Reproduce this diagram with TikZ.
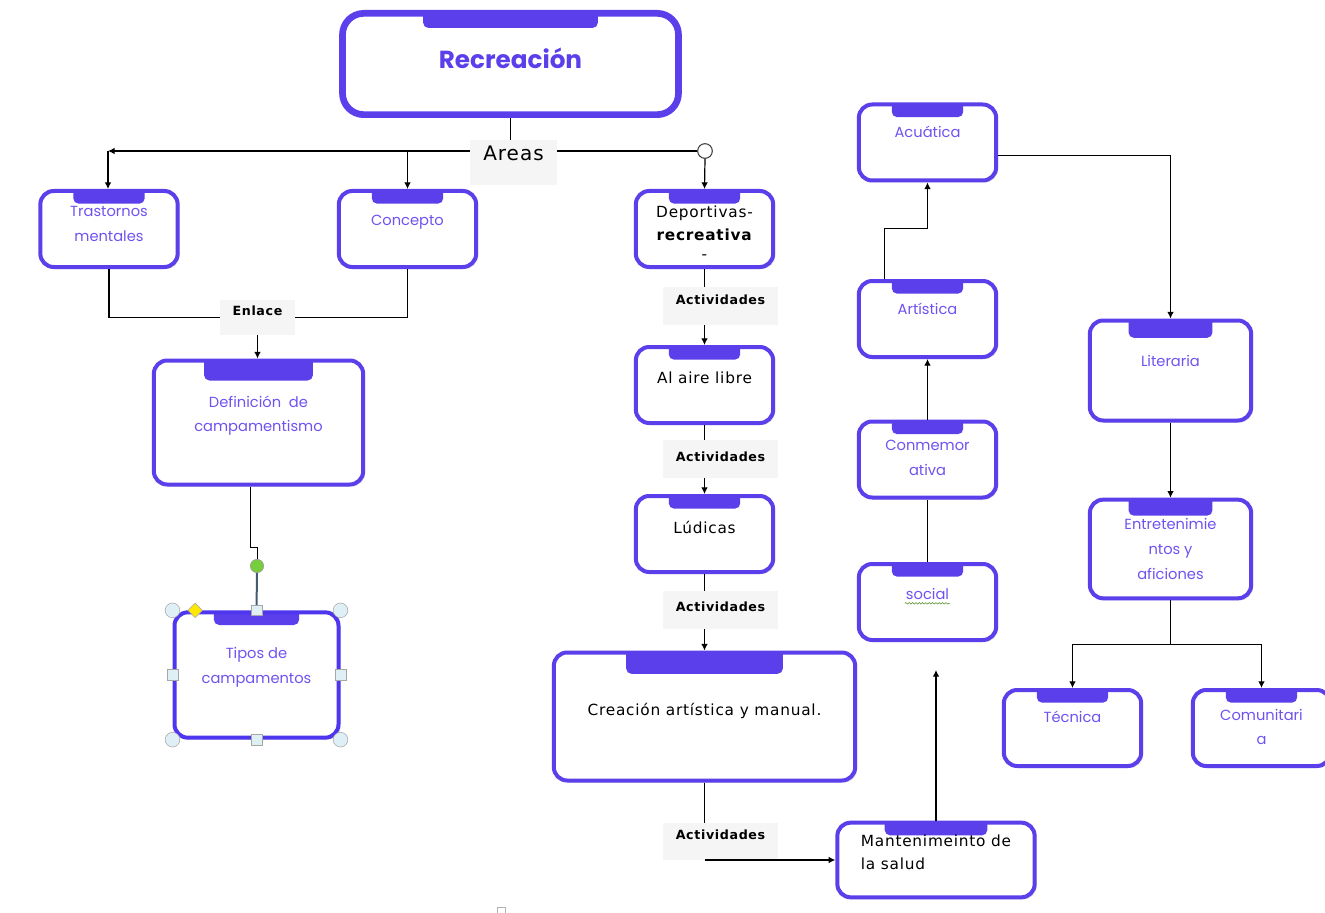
\documentclass[tikz,border=0pt]{standalone}
\usepackage{fontspec}
\setmainfont{Poppins}
\newfontfamily\negra[LetterSpace=5]{DejaVu Sans}
\usetikzlibrary{arrows.meta,calc,shadows,shapes.geometric,decorations.pathmorphing}

\definecolor{morado}{RGB}{91,63,235}
\definecolor{lila}{RGB}{112,82,240}
\definecolor{grisfondo}{RGB}{245,245,245}
\definecolor{celeste}{RGB}{222,240,246}
\definecolor{pizarra}{RGB}{68,90,112}
\definecolor{verde}{RGB}{120,205,60}

\tikzset{
  caja/.style={draw=morado, line width=3pt, rounded corners=10pt, fill=white,
    drop shadow={opacity=.22, shadow xshift=1.5pt, shadow yshift=-1.5pt},
    minimum width=103pt, minimum height=57pt, align=center,
    font=\fontsize{11}{18.5}\selectfont, text=lila,
    path picture={\fill[morado, rounded corners=4pt]
      ($(path picture bounding box.north west)!.24!(path picture bounding box.north east)+(0,6pt)$) rectangle
      ($(path picture bounding box.north west)!.76!(path picture bounding box.north east)+(0,-#1)$);}},
  caja/.default=9.5pt,
  negro/.style={text=black, font=\negra\fontsize{11.5}{17.5}\selectfont},
  etiqueta/.style={fill=grisfondo, inner sep=2pt, font=\negra\bfseries\fontsize{9.5}{11}\selectfont},
  linea/.style={black, line width=0.9pt},
  flecha/.style={linea, -{Latex[length=5pt,width=5pt]}},
  asa/.style={circle, draw=gray!70, fill=celeste, minimum size=11pt, inner sep=0pt},
  cuadro/.style={draw=gray!70, fill=celeste, minimum size=8pt, inner sep=0pt}
}

\begin{document}
\begin{tikzpicture}[x=0.75pt, y=-0.75pt]
  \useasboundingbox (0,0) rectangle (1325,913);

  % cabecera
  \node[caja=11pt, line width=5pt, rounded corners=16pt, minimum width=252pt, minimum height=76pt,
        text=morado, font=\bfseries\fontsize{18.5}{20}\selectfont, text depth=9pt] (recre) at (510.5,64) {Recreación};
  \node[etiqueta, font=\negra\fontsize{15}{16}\selectfont, minimum width=65pt, minimum height=34pt, text depth=14pt] (areas) at (513.5,162.5) {Areas};
  \node[circle, draw=black!75, fill=white, line width=0.8pt, minimum size=11pt, inner sep=0pt] (bola) at (705,151) {};
  \coordinate (izq) at (108,151);

  % rama izquierda
  \node[caja, text depth=7.5pt] (trast) at (109,229) {Trastornos\\mentales};
  \node[caja, text depth=13pt] (concep) at (407.5,229) {Concepto};
  \node[etiqueta, minimum width=56pt, minimum height=26pt, text depth=10pt] (enlace) at (257.5,317.5) {Enlace};
  \node[caja=15pt, minimum width=157pt, minimum height=93pt, text depth=13pt] (defin) at (258.5,422.5) {Definición~~de\\campamentismo};
  \node[caja, draw=morado!85!blue, minimum width=123pt, minimum height=94pt, text depth=14pt] (tipos) at (256.5,675) {Tipos de\\campamentos};
  \node[circle, draw=gray!80, fill=verde, minimum size=10pt, inner sep=0pt] (verde) at (257,566) {};

  % rama central
  \node[caja, negro, text height=46pt, text depth=0pt] (depor) at (704.5,229) {Deportivas-\\\textbf{recreativa}\\[-3pt]-};
  \node[etiqueta, minimum width=86pt, minimum height=28.5pt, text depth=9pt] (act1) at (720.5,306) {Actividades};
  \node[caja, negro, text depth=10.5pt] (aire) at (704.5,385) {Al aire libre};
  \node[etiqueta, minimum width=86pt, minimum height=28.5pt, text depth=3pt] (act2) at (720.5,459) {Actividades};
  \node[caja, negro, text depth=10.5pt] (ludi) at (704.5,534) {Lúdicas};
  \node[etiqueta, minimum width=86pt, minimum height=28.5pt, text depth=4.5pt] (act3) at (720.5,610) {Actividades};
  \node[caja=16pt, negro, minimum width=226pt, minimum height=96pt, text depth=10pt] (crea) at (704.5,716.5) {Creación artística y manual.};
  \node[etiqueta, minimum width=86pt, minimum height=28pt, text depth=10pt] (act4) at (720.5,841.5) {Actividades};
  \node[caja, negro, align=left, minimum width=148pt, minimum height=56pt, text depth=12pt] (mante) at (936,860) {Mantenimeinto de\\la salud};
  \coordinate (arriba) at (936,670);

  % rama derecha
  \node[caja, text depth=16.5pt] (acua) at (927.5,142.5) {Acuática};
  \node[caja, text depth=15pt] (arti) at (927.5,319) {Artística};
  \node[caja, text depth=3pt] (conm) at (927.5,459.5) {Conmemor\\ativa};
  \node[caja, text depth=12pt] (social) at (927.5,602) {social};
  \node[caja=13pt, minimum width=121pt, minimum height=75pt, text depth=15pt] (lite) at (1170.5,370.5) {Literaria};
  \node[caja=12pt, minimum width=121pt, minimum height=74pt, text depth=0pt] (entre) at (1170.5,549) {Entretenimie\\ntos y\\aficiones};
  \node[caja, text depth=16.5pt] (tecn) at (1072.5,728) {Técnica};
  \node[caja, text depth=1.5pt] (comu) at (1261.5,728) {Comunitari\\a};

  % conectores
  \draw[linea] (recre.south) -- (recre.south |- areas.north);
  \draw[flecha] (areas.west |- izq) -- (izq);
  \draw[flecha] (izq) -- (izq |- trast.north);
  \draw[flecha] (concep.north |- izq) -- (concep.north);
  \draw[linea] (areas.east |- bola) -- (bola.west);
  \draw[flecha] (bola.south) -- (depor.north);

  \draw[linea] (trast.south) |- (enlace.west);
  \draw[linea] (concep.south) |- (enlace.east);
  \draw[flecha] (enlace.south) -- (enlace.south |- defin.north);
  \draw[linea, line width=0.7pt] ([xshift=-6pt]defin.south) -- ++(0,-46pt) -| (verde.north);
  \draw[pizarra, line width=1.5pt] (verde.south) -- (tipos.north);

  \draw[linea] (depor.south) -- (depor.south |- act1.north);
  \draw[flecha] (depor.south |- act1.south) -- (aire.north);
  \draw[linea] (aire.south) -- (aire.south |- act2.north);
  \draw[flecha] (aire.south |- act2.south) -- (ludi.north);
  \draw[linea] (ludi.south) -- (ludi.south |- act3.north);
  \draw[flecha] (ludi.south |- act3.south) -- (crea.north);
  \draw[linea] (crea.south) -- (crea.south |- act4.north);
  \draw[flecha] (crea.south |- mante.west) -- (mante.west);
  \draw[flecha] (mante.north -| arriba) -- (arriba);

  \draw[flecha] ([xshift=-32pt]arti.north) -- ++(0,38pt) -| (acua.south);
  \draw[flecha] (conm.north) -- (arti.south);
  \draw[linea] (social.north) -- (conm.south);
  \draw[verde!70!black, decorate, decoration={snake, amplitude=0.6pt, segment length=2.5pt}]
    ([xshift=-17pt,yshift=-1pt]social.center) -- ([xshift=17pt,yshift=-1pt]social.center);
  \draw[flecha] ([yshift=-10pt]acua.east) -| (lite.north);
  \draw[flecha] (lite.south) -- (entre.north);
  \draw[linea] (entre.south) -- ++(0,-33pt) coordinate (rama);
  \draw[flecha] (rama) -| (tecn.north);
  \draw[flecha] (rama) -| (comu.north);

  % marcas de seleccion
  \foreach \esq in {north west,north east,south west,south east}
    \node[asa] (asa \esq) at (tipos.\esq) {};
  \foreach \lado in {north,south,west,east}
    \node[cuadro] (cuadro \lado) at (tipos.\lado) {};
  \node[diamond, draw=gray!70, fill=yellow!90!orange, minimum size=11pt, inner sep=0pt] (rombo) at ([xshift=17pt]tipos.north west) {};
  \node[draw=gray!60, fill=white, minimum size=6pt, inner sep=0pt, line width=0.6pt] (marca) at (501,911) {};
\end{tikzpicture}
\end{document}
